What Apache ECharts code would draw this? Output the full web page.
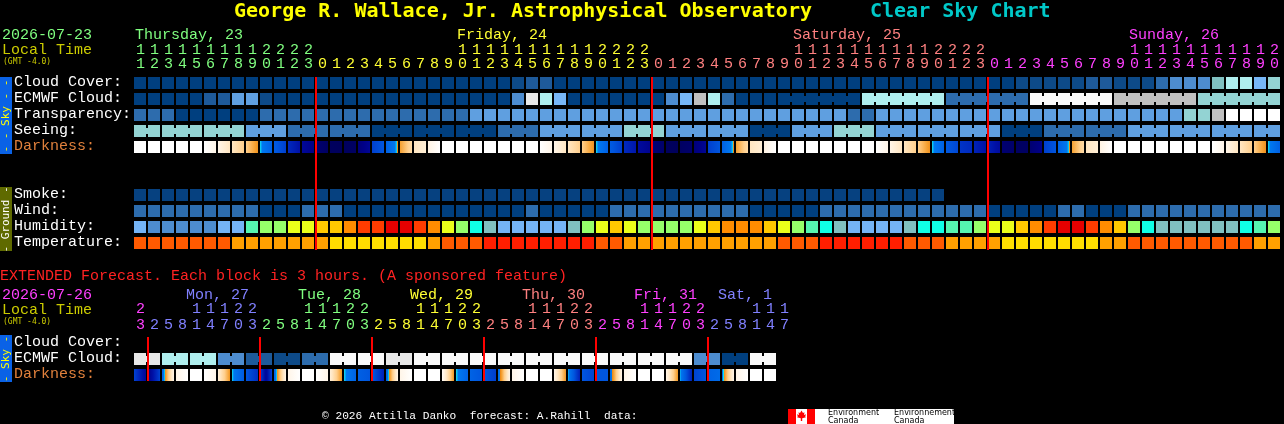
<!DOCTYPE html>
<html><head><meta charset="utf-8">
<script src="https://cdn.jsdelivr.net/npm/echarts@6/dist/echarts.min.js"></script>
<style>html,body{margin:0;padding:0;background:#000;}#c{width:1284px;height:424px;}</style>
</head><body><div id="c"></div>
<script>
// ---------------- DATA ----------------
const mainDayNames = ['Thursday, 23', 'Friday, 24', 'Saturday, 25', 'Sunday, 26'];
const mainDayFirstHour = [11, 0, 0, 0];
const mainDayLastHour = [23, 23, 23, 20];

const extDayNames = ['', 'Mon, 27', 'Tue, 28', 'Wed, 29', 'Thu, 30', 'Fri, 31', 'Sat, 1'];
const extDayFirstHour = [23, 2, 2, 2, 2, 2, 2];
const extDayLastHour = [23, 23, 23, 23, 23, 23, 17];

// cloud levels: 0 clear ... 12 overcast
const cloudCover = [0,0,0,0,0,0,0,0,0,0, 0,0,0,0,0,0,0,0,0,0, 0,0,0,0,0,0,0,1,2,2,
  0,0,0,0,0,0,0,0,0,0, 0,0,0,0,0,0,0,0,0,0, 0,0,0,0,0,0,0,0,0,0,
  0,0,0,1,1,1,1,1,2,2, 1,1,1,3,4,4,4,7,9,9, 6,8];
const ecmwfHourly = [0,0,0,0,0,2,2,5,5,1, 0,0,0,0,0,0,0,0,0,0, 0,0,0,0,0,0,0,4,11,9,
  6,0,0,0,0,0,0,0,4,6, 10,9,3,0,0,0];
const ecmwfSixHourly = [0, 9, 3, 12, 10, 8];
// transparency: 0 transparent ... 5 too cloudy
const transparency = [1,1,1,0,0,0,0,0,0,1, 1,1,1,1,1,1,1,1,1,1, 1,1,1,1,2,2,2,2,2,2,
  2,2,2,2,2,2,2,2,2,2, 2,2,2,2,2,2,2,2,2,2, 2,1,1,2,2,2,2,2,2,2,
  2,2,2,2,2,2,2,2,2,2, 2,2,2,2,2,3,3,4,5,5, 5,5];
// seeing per 3-hour block: 0 excellent ... 3 poor
const seeingThreeHourly = [3,3,3,2,1,1,0,0,0,1, 2,2,3,2,2,0,2,3,2,2, 2,0,1,1,2,2,2,2];
// darkness per hour: [start, end] (0 daylight ... 11 darkest)
const darkness = [
  [0,0],[0,0],[0,0],[0,0],[0,0],[0,1],[1,2],[2,3],[3,4.3],[4.5,5.6],
  [5.8,6.6],[7.2,8],[8.5,9],[9.6,10],[10.2,10.4],[10.2,10],[9.4,8.6],[6.6,6],[5.6,4.4],[4,2.5],
  [2,1.5],[1.2,0],[0,0],[0,0],[0,0],[0,0],[0,0],[0,0],[0,0],[0,1],
  [1,2],[2,3],[3,4.3],[4.5,5.6],[5.8,6.6],[7.2,7.8],[8.3,8.8],[9.4,9.8],[10.2,10.4],[10,9.8],
  [9.4,8.6],[6.6,6],[5.6,4.4],[4,2.5],[2,1.5],[1.2,0],[0,0],[0,0],[0,0],[0,0],
  [0,0],[0,0],[0,0],[0,1],[1,2],[2,3],[3,4.3],[4.5,5.6],[5.9,6.4],[6.9,7.2],
  [7.4,8],[7.5,8.3],[9.6,9.8],[10,10],[9.6,9],[6.6,6],[5.6,4.4],[4,2.5],[2,1.5],[1.2,0],
  [0,0],[0,0],[0,0],[0,0],[0,0],[0,0],[0,0],[0,1],[1,2],[2,3],
  [3,4.3],[4.5,5.6]];
const smoke = [0,0,0,0,0,0,0,0,0,0, 0,0,0,0,0,0,0,0,0,0, 0,0,0,0,0,0,0,0,0,0,
  0,0,0,0,0,0,0,0,0,0, 0,0,0,0,0,0,0,0,0,0, 0,0,0,0,0,0,0,0];
const wind = [1,1,1,1,1,1,1,1,1,0, 0,0,1,1,1,0,0,0,0,0, 0,0,0,0,0,0,0,0,1,0,
  0,0,0,0,1,1,1,1,1,1, 1,1,1,1,0,0,0,0,0,1, 1,1,1,1,1,1,1,1,1,1,
  1,0,0,0,0,0,1,1,0,0, 0,1,1,1,1,1,1,1,1,1, 1,1];
// humidity levels: 0 driest ... 10 most humid
const humidity = [1,0,0,0,0,0,1,1,4,5, 5,6,6,7,7,8,9,9,10,10, 9,8,6,5,3,2,1,1,1,1,
  1,2,5,6,7,6,5,5,5,5, 6,7,8,8,8,7,6,5,4,3, 2,1,1,1,1,2,3,3,4,4,
  5,6,6,7,8,9,10,10,9,8, 7,5,3,2,2,2,2,2,2,3, 4,5];
// temperature levels: 0 coolest ... 3 warmest
const temperature = [2,2,2,2,2,2,2,1,1,1, 1,1,1,1,0,0,0,0,0,0, 0,1,2,2,2,3,3,3,3,3,
  3,3,3,2,2,1,1,1,1,1, 1,1,1,1,1,1,2,2,2,3, 3,3,3,3,3,2,2,2,1,1,
  1,1,0,0,0,0,0,0,0,1, 1,2,2,2,2,2,2,2,2,2, 1,1];

// extended (3-hour blocks)
const extCloudCover = [];
const extEcmwfSixHourly = [11,9,9,4,2,1,3,12,12,11, 12,12,12,12,12,12,12,12,12,12, 4,0,12];
const extDarkness = [
  [6.5,8.5],[9,6.5],[5.5,1],[1,0],[0,0],[0,1],[1.5,4.2],[4.5,5.8],[6,7],[6.5,8.5,6.5],
  [5.5,1],[1,0],[0,0],[0,1],[1.5,4.2],[4.5,5.5],[5.6,6],[5.8,7.5],[5.5,1],[1,0],
  [0,0],[0,0],[0.5,4.2],[4.5,5.5],[5.5,6],[6,6.6],[5.3,1],[1,0],[0,0],[0,0],
  [1,4.2],[4.5,6,7.5],[6,6.5],[6,6],[5.3,1],[1,0],[0,0],[0,0],[1,4.2],[4.5,6,7.5],
  [6.5,6],[5.5,5.2],[5,1],[1,0],[0,0],[0,0]];

// ---------------- STYLES ----------------
const cloudPalette = ['#003F7F','#0D4A88','#1E5A9A','#2D6CAD','#4D8CCF','#5F9FE0','#77B7F7','#80C0C0','#93D3D3','#AFEEEE','#C0C0C0','#E8E8E8','#F9F9F9'];
const transPalette = ['#003F7F','#2D6CAD','#5F9FE0','#93D3D3','#C0C0C0','#FFFFFF'];
const windPalette = ['#003F7F','#2D6CAD'];
const smokePalette = ['#064180'];
const humidityPalette = ['#4D8CCF','#74B3F5','#80C0C0','#10FFE6','#55F5B0','#96FF6A','#EAFF1A','#FFC800','#FF8C00','#FF3C00','#E60000'];
const tempPalette = ['#FFDD00','#FFA000','#FF5A00','#FF1E00'];
const darkRamp = [[0,'#ffffff'],[1,'#fff5e8'],[2,'#ffe6c2'],[3,'#ffcf8c'],[4,'#f5a030'],[4.45,'#ec8a18'],
  [4.5,'#10e4f0'],[4.7,'#0078f0'],[6,'#0056de'],[7,'#0030c4'],[8,'#0010a6'],[9,'#000088'],[10,'#000062'],[11,'#000050']];
const mainDayColors = ['#80ff80','#ffff33','#ff8080','#ff40ff'];
const extDayColors = ['#ff40ff','#8080ff','#80ff80','#ffff33','#ff8080','#ff40ff','#8080ff'];
const MONO = '"DejaVu Sans Mono", monospace';
const LMONO = '"Liberation Mono", "DejaVu Sans Mono", monospace';
const F15 = '15px ' + LMONO;
const TY = 0; // text vertical nudge

// ---------------- DERIVED ----------------
const mainHours = [], mainHourDay = [], mainDayStartCol = [];
mainDayFirstHour.forEach((h0, d) => { mainDayStartCol.push(mainHours.length);
  for (let h = h0; h <= mainDayLastHour[d]; h++) { mainHours.push(h); mainHourDay.push(d); } });
const extHours = [], extHourDay = [], extDayStartCol = [];
extDayFirstHour.forEach((h0, d) => { extDayStartCol.push(extHours.length);
  for (let h = h0; h <= extDayLastHour[d]; h += 3) { extHours.push(h); extHourDay.push(d); } });

const N = mainHours.length;
const ecmwfStart = ecmwfHourly.length;
const ecmwfLevels = [], ecmwfJoin = [];
for (let i = 0; i < N; i++) {
  if (i < ecmwfStart) { ecmwfLevels.push(ecmwfHourly[i]); ecmwfJoin.push(false); }
  else { const g = Math.floor((i - ecmwfStart) / 6); ecmwfLevels.push(ecmwfSixHourly[g]);
    ecmwfJoin.push(i + 1 < N && Math.floor((i + 1 - ecmwfStart) / 6) === g); }
}
const seeingLevels = [], seeingJoin = [];
let sg = 0;
for (let i = 0; i < N; i++) {
  if (i > 0 && mainHours[i] % 3 === 1) sg++;
  seeingLevels.push(seeingThreeHourly[sg]);
  seeingJoin.push(i + 1 < N && mainHours[i + 1] % 3 !== 1);
}
const extEcmwfLevels = [], extEcmwfJoin = [];
extEcmwfSixHourly.forEach(v => { extEcmwfLevels.push(v, v); extEcmwfJoin.push(true, false); });

function hexToRgb(h) { return [1, 3, 5].map(k => parseInt(h.substr(k, 2), 16)); }
function rampColor(v) {
  if (v <= darkRamp[0][0]) return darkRamp[0][1];
  for (let k = 1; k < darkRamp.length; k++) {
    if (v <= darkRamp[k][0]) {
      const v0 = darkRamp[k-1][0], v1 = darkRamp[k][0];
      const a = hexToRgb(darkRamp[k-1][1]), b = hexToRgb(darkRamp[k][1]);
      const t = (v - v0) / (v1 - v0);
      return 'rgb(' + a.map((x, j) => Math.round(x + (b[j] - x) * t)).join(',') + ')';
    }
  }
  return darkRamp[darkRamp.length - 1][1];
}
function gradientStops(vals) {
  const n = vals.length, stops = [];
  for (let s = 0; s < n - 1; s++) {
    const a = vals[s], b = vals[s + 1], t0 = s / (n - 1), t1 = (s + 1) / (n - 1);
    stops.push({offset: t0, color: rampColor(a)});
    if (a !== b) {
      const keys = darkRamp.map(k => k[0]).filter(k => k > Math.min(a, b) && k < Math.max(a, b));
      if (b < a) keys.reverse();
      keys.forEach(k => stops.push({offset: t0 + (k - a) / (b - a) * (t1 - t0), color: rampColor(k)}));
    }
    stops.push({offset: t1, color: rampColor(b)});
  }
  return stops;
}

function cellBox(api, c, r) {
  const a = api.coord([c, r]), b = api.coord([c + 1, r + 1]);
  const x = Math.round(a[0]), y0 = Math.round(a[1]);
  return {x: x, y: y0 + 2, w: Math.round(b[0]) - x - 2, h: Math.round(b[1]) - y0 - 4};
}
function blockSeries(g, row, levels, palette, joins) {
  return {
    type: 'custom', xAxisIndex: g, yAxisIndex: g, silent: true, z: 2,
    encode: {x: 0, y: 1},
    data: levels.map((v, i) => [i, row, v, joins && joins[i] ? 1 : 0]),
    renderItem: (params, api) => {
      const b = cellBox(api, api.value(0), api.value(1));
      const fill = palette[api.value(2)];
      const ch = [{type: 'rect', shape: {x: b.x, y: b.y, width: b.w, height: b.h}, style: {fill: fill}}];
      if (api.value(3)) ch.push({type: 'rect', shape: {x: b.x + b.w, y: b.y + 3, width: 2, height: b.h - 6}, style: {fill: fill}});
      return {type: 'group', children: ch};
    }
  };
}
function darkSeries(g, row, cells) {
  return {
    type: 'custom', xAxisIndex: g, yAxisIndex: g, silent: true, z: 2,
    encode: {x: 0, y: 1},
    data: cells.map((v, i) => [i, row]),
    renderItem: (params, api) => {
      const b = cellBox(api, api.value(0), api.value(1));
      const grad = new echarts.graphic.LinearGradient(0, 0, 1, 0, gradientStops(cells[params.dataIndex]));
      return {type: 'rect', shape: {x: b.x, y: b.y, width: b.w, height: b.h}, style: {fill: grad}};
    }
  };
}
function midnightSeries(g, cols, r0, r1) {
  return {
    type: 'custom', xAxisIndex: g, yAxisIndex: g, silent: true, z: 5,
    encode: {x: 0, y: 1},
    data: cols.map(c => [c, r0]),
    renderItem: (params, api) => {
      const a = api.coord([api.value(0), r0]), b = api.coord([api.value(0), r1]);
      return {type: 'rect', shape: {x: Math.round(a[0]) - 1, y: Math.round(a[1]), width: 2, height: Math.round(b[1] - a[1])}, style: {fill: '#ff0000'}};
    }
  };
}
function txt(x, y, text, fill, font, align) {
  return {text: text, x: x, y: y, fill: fill, font: font, align: align || 'left', verticalAlign: 'middle',
    textAlign: align || 'left', textVerticalAlign: 'middle'};
}
function hourLabelSeries(g, hours, hourDay, colors, tensV, unitsV) {
  const data = [];
  hours.forEach((h, i) => {
    if (h >= 10) data.push([i, tensV, Math.floor(h / 10), hourDay[i]]);
    data.push([i, unitsV, h % 10, hourDay[i]]);
  });
  return {
    type: 'custom', xAxisIndex: g, yAxisIndex: g, silent: true, z: 3,
    encode: {x: 0, y: 1}, data: data,
    renderItem: (params, api) => {
      const p = api.coord([api.value(0), api.value(1)]);
      return {type: 'text', style: txt(Math.round(p[0]) + 2, Math.round(p[1]) + TY, String(api.value(2)), colors[api.value(3)], F15)};
    }
  };
}
function dayLabelSeries(g, names, positions, colors, v) {
  const data = [];
  names.forEach((n, d) => { if (n) data.push([positions[d], v, d]); });
  return {
    type: 'custom', xAxisIndex: g, yAxisIndex: g, silent: true, z: 3,
    encode: {x: 0, y: 1}, data: data,
    renderItem: (params, api) => {
      const p = api.coord([api.value(0), api.value(1)]);
      const d = api.value(2);
      return {type: 'text', style: txt(Math.round(p[0]) + 1, Math.round(p[1]) + TY, names[d], colors[d], F15)};
    }
  };
}

const mainMidnights = mainHours.map((h, i) => h === 0 ? i : -1).filter(i => i > 0);
const extMidnights = extHours.map((h, i) => (i > 0 && h < extHours[i - 1]) ? i : -1).filter(i => i > 0);
const mainDayLabelPos = mainDayFirstHour.map((h0, d) => mainDayStartCol[d] + Math.max(0, 10 - h0));
const extLabelHour = extDayLastHour.map(h => h < 23 ? 4 : 10);
const extDayLabelPos = extDayFirstHour.map((h0, d) => extDayStartCol[d] + Math.max(0, (extLabelHour[d] - h0) / 3));

// ---------------- CHART ----------------
const chart = echarts.init(document.getElementById('c'), null, {renderer: 'canvas'});

function gText(x, y, text, fill, font, align) {
  return {type: 'text', silent: true, x: 0, y: 0, style: txt(x, y + TY, text, fill, font, align)};
}
function vText(x, y, text, fill, font) {
  return {type: 'text', silent: true, x: x, y: y, rotation: Math.PI / 2, style: txt(0, 0, text, fill, font, 'center')};
}
const graphics = [
  gText(234, 12, 'George R. Wallace, Jr. Astrophysical Observatory', '#ffff00', 'bold 20px ' + MONO),
  gText(870, 12, 'Clear Sky Chart', '#00c8c8', 'bold 20px ' + MONO),
  gText(2, 35, '2026-07-23', '#80ff80', F15),
  gText(2, 50, 'Local Time', '#cccc00', F15),
  gText(3, 62, '(GMT -4.0)', '#cccc00', '8px ' + MONO),
  gText(14, 82, 'Cloud Cover:', '#ffffff', F15),
  gText(14, 98, 'ECMWF Cloud:', '#ffffff', F15),
  gText(14, 114, 'Transparency:', '#ffffff', F15),
  gText(14, 130, 'Seeing:', '#ffffff', F15),
  gText(14, 146, 'Darkness:', '#e0803c', F15),
  gText(14, 194, 'Smoke:', '#ffffff', F15),
  gText(14, 210, 'Wind:', '#ffffff', F15),
  gText(14, 226, 'Humidity:', '#ffffff', F15),
  gText(14, 242, 'Temperature:', '#ffffff', F15),
  {type: 'rect', silent: true, shape: {x: 0, y: 77, width: 12, height: 77}, style: {fill: '#0a62e6'}},
  vText(6, 116, '- - Sky - -', '#ffff00', '11px ' + MONO),
  {type: 'rect', silent: true, shape: {x: 0, y: 187, width: 12, height: 64}, style: {fill: '#5f6a00'}},
  vText(6, 219.5, '- Ground -', '#ffffff', '11px ' + MONO),
  gText(0, 276, 'EXTENDED Forecast. Each block is 3 hours. (A sponsored feature)', '#ff2222', F15),
  gText(2, 295, '2026-07-26', '#ff40ff', F15),
  gText(2, 310, 'Local Time', '#cccc00', F15),
  gText(3, 322, '(GMT -4.0)', '#cccc00', '8px ' + MONO),
  gText(14, 342, 'Cloud Cover:', '#ffffff', F15),
  gText(14, 358, 'ECMWF Cloud:', '#ffffff', F15),
  gText(14, 374, 'Darkness:', '#e0803c', F15),
  {type: 'rect', silent: true, shape: {x: 0, y: 335, width: 12, height: 47}, style: {fill: '#0a62e6'}},
  vText(6, 359, '- Sky -', '#ffff00', '11px ' + MONO),
  gText(322, 416, '\u00A9 2026 Attilla Danko  forecast: A.Rahill  data:', '#ffffff', '11.2px ' + LMONO),
  {type: 'rect', silent: true, shape: {x: 788, y: 409, width: 166, height: 15}, style: {fill: '#ffffff'}},
  {type: 'rect', silent: true, shape: {x: 788, y: 409, width: 8, height: 15}, style: {fill: '#ff0000'}},
  {type: 'rect', silent: true, shape: {x: 807, y: 409, width: 8, height: 15}, style: {fill: '#ff0000'}},
  {type: 'polygon', silent: true, shape: {points: [[801.5,410.5],[803,413],[804.5,412.3],[804,415],[806,414.3],[805.2,416.5],[806,417.2],[802.2,418.3],[802.2,421],[800.8,421],[800.8,418.3],[797,417.2],[797.8,416.5],[797,414.3],[799,415],[798.5,412.3],[800,413]]}, style: {fill: '#ff0000'}},
  gText(828, 413, 'Environment', '#000000', '8px "DejaVu Sans"'),
  gText(828, 420.5, 'Canada', '#000000', '8px "DejaVu Sans"'),
  gText(894, 413, 'Environnement', '#000000', '8px "DejaVu Sans"'),
  gText(894, 420.5, 'Canada', '#000000', '8px "DejaVu Sans"')
];

const option = {
  backgroundColor: '#000000',
  animation: false,
  grid: [{left: 134, top: 3, width: 1148, height: 248}, {left: 134, top: 279, width: 658, height: 104}],
  xAxis: [{gridIndex: 0, type: 'value', min: 0, max: 82, show: false}, {gridIndex: 1, type: 'value', min: 0, max: 47, show: false}],
  yAxis: [{gridIndex: 0, type: 'value', min: -4.5, max: 11, inverse: true, show: false},
          {gridIndex: 1, type: 'value', min: -3.5, max: 3, inverse: true, show: false}],
  graphic: graphics,
  series: [
    blockSeries(0, 0, cloudCover, cloudPalette),
    blockSeries(0, 1, ecmwfLevels, cloudPalette, ecmwfJoin),
    blockSeries(0, 2, transparency, transPalette),
    blockSeries(0, 3, seeingLevels, transPalette, seeingJoin),
    darkSeries(0, 4, darkness),
    blockSeries(0, 7, smoke, smokePalette),
    blockSeries(0, 8, wind, windPalette),
    blockSeries(0, 9, humidity, humidityPalette),
    blockSeries(0, 10, temperature, tempPalette),
    midnightSeries(0, mainMidnights, 0.125, 10.94),
    hourLabelSeries(0, mainHours, mainHourDay, mainDayColors, -1.56, -0.66),
    dayLabelSeries(0, mainDayNames, mainDayLabelPos, mainDayColors, -2.5),
    blockSeries(1, 0, extCloudCover, cloudPalette),
    blockSeries(1, 1, extEcmwfLevels, cloudPalette, extEcmwfJoin),
    darkSeries(1, 2, extDarkness),
    midnightSeries(1, extMidnights, 0.125, 2.875),
    hourLabelSeries(1, extHours, extHourDay, extDayColors, -1.6, -0.6),
    dayLabelSeries(1, extDayNames, extDayLabelPos, extDayColors, -2.5)
  ]
};
chart.setOption(option);
</script>
</body></html>
